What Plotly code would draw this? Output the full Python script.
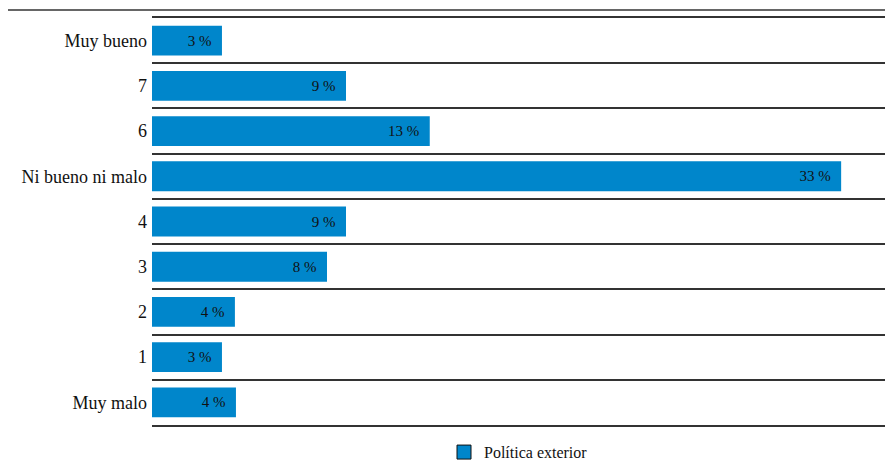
import plotly.graph_objects as go

categories = ["Muy bueno", "7", "6", "Ni bueno ni malo", "4", "3", "2", "1", "Muy malo"]
values = [3.35, 9.29, 13.3, 33.0, 9.29, 8.38, 3.97, 3.35, 4.02]
labels = ["3 %", "9 %", "13 %", "33 %", "9 %", "8 %", "4 %", "3 %", "4 %"]
series_name = "Política exterior"

BLUE = "#0086CB"
FONT = "Liberation Serif, DejaVu Serif, serif"

fig = go.Figure()
fig.add_trace(go.Bar(
    x=values, y=categories, orientation="h",
    marker=dict(color=BLUE, line=dict(width=0)),
    text=[l + "  " for l in labels], textposition="inside", insidetextanchor="end",
    textfont=dict(family=FONT, size=15, color="#111"),
    width=0.66, showlegend=False, hoverinfo="skip",
))
fig.add_trace(go.Scatter(
    x=[None], y=[None], mode="markers", name=series_name,
    marker=dict(symbol="square", size=14, color=BLUE, line=dict(color="#111", width=1)),
    showlegend=True,
))

fig.update_layout(
    width=885, height=468,
    margin=dict(l=152, r=0, t=18, b=43, autoexpand=False),
    paper_bgcolor="white", plot_bgcolor="white",
    font=dict(family=FONT, size=18, color="#111"),
    bargap=0.34,
    xaxis=dict(range=[0, 35.1], showgrid=False, showticklabels=False, zeroline=False,
               showline=True, mirror=True, linecolor="#333", linewidth=1.5, ticks=""),
    yaxis=dict(type="category", categoryorder="array", categoryarray=categories,
               autorange="reversed", tickson="boundaries", showgrid=True,
               gridcolor="#333", gridwidth=1.5, ticks="", showline=False,
               tickfont=dict(family=FONT, size=18, color="#111"), ticklabelstandoff=4),
    legend=dict(orientation="h", x=0.5, xanchor="center", y=-0.025, yanchor="top",
                font=dict(family=FONT, size=16, color="#111"), itemwidth=30),
    shapes=[dict(type="line", xref="paper", yref="paper",
                 x0=-(152 - 8) / 733, x1=1, y0=1 + 8 / 407, y1=1 + 8 / 407,
                 line=dict(color="#333", width=1.5))],
)

fig.write_html("out.html")
